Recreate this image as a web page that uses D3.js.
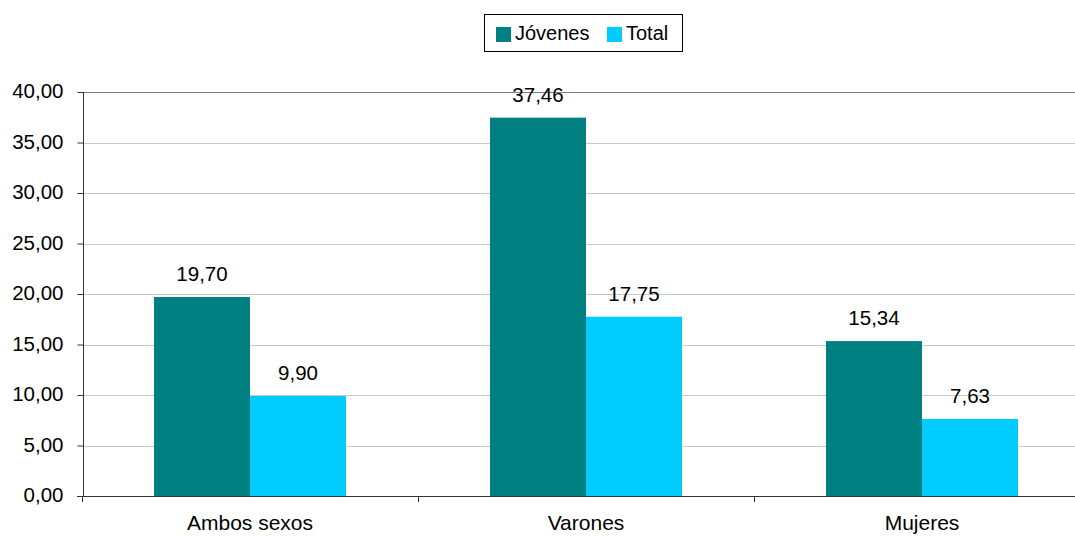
<!DOCTYPE html>
<html>
<head>
<meta charset="utf-8">
<script src="https://cdn.jsdelivr.net/npm/d3@7"></script>
<style>
  html, body { margin: 0; padding: 0; background: #fff; }
  svg { display: block; font-family: "Liberation Sans", Arial, sans-serif; }
</style>
</head>
<body>
<svg id="chart" width="1075" height="536"></svg>
<script>
const categories = ["Ambos sexos", "Varones", "Mujeres"];
const seriesNames = ["Jóvenes", "Total"];
const jovenes = [19.70, 37.46, 15.34];
const total = [9.90, 17.75, 7.63];
const yTicks = [0, 5, 10, 15, 20, 25, 30, 35, 40];
const colors = ["#008080", "#00CCFF"];

const rows = categories.map((c, i) => ({ cat: c, values: [jovenes[i], total[i]] }));

const svg = d3.select("#chart");
const plotLeft = 83, plotRight = 1090, plotTop = 92, plotBottom = 496;
const fontSize = 20.5;

const y = d3.scaleLinear().domain([0, 40]).range([plotBottom, plotTop]);
const x = d3.scaleBand().domain(categories).range([plotLeft - 1, plotRight]).padding(0);
const xs = d3.scaleBand().domain(seriesNames).range([0, x.bandwidth()]).paddingInner(0).paddingOuter(0.75);

const fmt = v => d3.format(".2f")(v).replace(".", ",");

// horizontal gridlines
svg.append("g").selectAll("line").data(yTicks.filter(t => t > 0)).join("line")
  .attr("x1", plotLeft).attr("x2", 1075)
  .attr("y1", d => Math.round(y(d)) + 0.5).attr("y2", d => Math.round(y(d)) + 0.5)
  .attr("stroke", d => d === 40 ? "#808080" : "#c8c8c8").attr("stroke-width", 1);

// bars
const groups = svg.append("g").selectAll("g").data(rows).join("g")
  .attr("transform", d => `translate(${x(d.cat)},0)`);
groups.selectAll("rect").data(d => d.values.map((v, i) => ({ v, s: seriesNames[i], i }))).join("rect")
  .attr("x", d => xs(d.s)).attr("width", xs.bandwidth())
  .attr("y", d => y(d.v)).attr("height", d => plotBottom - y(d.v))
  .attr("fill", d => colors[d.i]);

// value labels
groups.selectAll("text").data(d => d.values.map((v, i) => ({ v, s: seriesNames[i] }))).join("text")
  .attr("x", d => xs(d.s) + xs.bandwidth() / 2)
  .attr("y", d => y(d.v) - 16)
  .attr("text-anchor", "middle").attr("font-size", fontSize).attr("fill", "#000")
  .text(d => fmt(d.v));

// y axis
const yAxis = d3.axisLeft(y).tickValues(yTicks).tickSize(6).tickPadding(14).tickFormat(fmt);
const gy = svg.append("g").attr("transform", `translate(${plotLeft + 0.5},0)`).call(yAxis);
gy.select(".domain").attr("stroke", "#333").attr("d", `M0,${plotTop}V${plotBottom}`);
gy.selectAll(".tick line").attr("stroke", "#333");
gy.selectAll(".tick text").attr("font-size", fontSize).attr("fill", "#000").attr("dy", "0.28em")
  .attr("font-family", "'Liberation Sans', Arial, sans-serif");

// x axis
svg.append("line").attr("x1", plotLeft - 6).attr("x2", 1075)
  .attr("y1", plotBottom + 0.5).attr("y2", plotBottom + 0.5).attr("stroke", "#333");
const bounds = categories.map(c => x(c)).concat([plotRight]);
svg.append("g").selectAll("line").data(bounds).join("line")
  .attr("x1", d => Math.round(d) + 0.5).attr("x2", d => Math.round(d) + 0.5)
  .attr("y1", plotBottom).attr("y2", plotBottom + 6).attr("stroke", "#333");
svg.append("g").selectAll("text").data(categories).join("text")
  .attr("x", d => x(d) + x.bandwidth() / 2).attr("y", 530)
  .attr("text-anchor", "middle").attr("font-size", 21).attr("fill", "#000")
  .text(d => d);

// legend
const lg = svg.append("g");
lg.append("rect").attr("x", 484.5).attr("y", 14.5).attr("width", 198).attr("height", 37)
  .attr("fill", "#fff").attr("stroke", "#000");
const items = [{ name: seriesNames[0], x: 496, c: colors[0] }, { name: seriesNames[1], x: 607, c: colors[1] }];
items.forEach(it => {
  lg.append("rect").attr("x", it.x).attr("y", 27).attr("width", 15).attr("height", 15).attr("fill", it.c);
  lg.append("text").attr("x", it.x + 19).attr("y", 40).attr("font-size", 20).attr("fill", "#000").text(it.name);
});
</script>
</body>
</html>
